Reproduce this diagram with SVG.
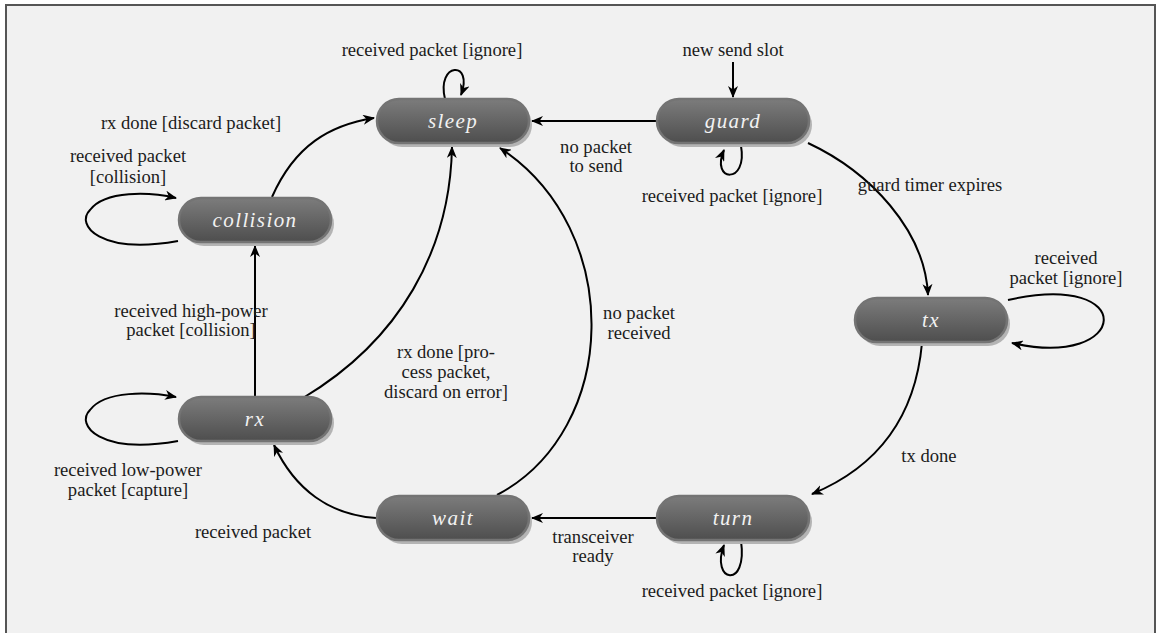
<svg xmlns="http://www.w3.org/2000/svg" width="1157" height="633" viewBox="0 0 1157 633">
  <style>
    .lbl { font-family: "Liberation Serif", "Times New Roman", Tinos, serif; font-size: 18.6px; fill: #1c1c1c; text-anchor: middle; }
    .nt { font-family: "Liberation Serif", "Times New Roman", Tinos, serif; font-style: italic; font-size: 21px; letter-spacing: 1.4px; fill: #f2f2f2; text-anchor: middle; dominant-baseline: central; }
    .edge { fill: none; stroke: #000; stroke-width: 2; marker-end: url(#arr); }
    .shadow { fill: #b4b4b4; }
    .body { fill: url(#grad); stroke: #747474; stroke-width: 2.5; }
  </style>
  <defs>
    <linearGradient id="grad" x1="0" y1="0" x2="0" y2="1">
      <stop offset="0" stop-color="#7c7c7c"/>
      <stop offset="1" stop-color="#4e4e4e"/>
    </linearGradient>
    <marker id="arr" viewBox="0 0 12 10" refX="11" refY="5" markerWidth="12" markerHeight="10" markerUnits="userSpaceOnUse" orient="auto">
      <path d="M0,0 L12,5 L0,10 L3.5,5 Z" fill="#000"/>
    </marker>
  </defs>

  <!-- frame -->
  <rect x="0" y="0" width="1157" height="633" fill="#ffffff"/>
  <rect x="6" y="5" width="1149" height="700" fill="#f1f1f1" stroke="#555" stroke-width="2"/>

  <!-- connectors -->
  <g id="connectors">
    <path class="edge" d="M 445 99 C 436 62, 474 60, 461 95"/>
    <path class="edge" d="M 733 62 L 733 97"/>
    <path class="edge" d="M 656 121 L 532 121"/>
    <path class="edge" d="M 741 146 C 748 185, 710 182, 724 150"/>
    <path class="edge" d="M 808 143 C 870 172, 925 230, 928 295"/>
    <path class="edge" d="M 1008 300 C 1140 270, 1130 370, 1012 343"/>
    <path class="edge" d="M 922 343 C 915 420, 875 468, 812 494"/>
    <path class="edge" d="M 741 541 C 748 590, 710 582, 724 545"/>
    <path class="edge" d="M 656 518 L 532 518"/>
    <path class="edge" d="M 497 495 C 620 430, 625 230, 500 148"/>
    <path class="edge" d="M 303 398 C 400 340, 450 250, 452 147"/>
    <path class="edge" d="M 255 397 L 255 246"/>
    <path class="edge" d="M 272 197 C 295 145, 330 125, 374 118"/>
    <path class="edge" d="M 178 241 C 100 255, 75 225, 90 210 C 105 190, 150 192, 176 198"/>
    <path class="edge" d="M 178 441 C 100 455, 75 425, 90 410 C 105 390, 150 392, 176 397"/>
    <path class="edge" d="M 376 518 C 330 515, 295 490, 274 445"/>
  </g>

  <!-- edge labels -->
  <g id="labels">
    <text class="lbl" x="432" y="56">received packet [ignore]</text>
    <text class="lbl" x="733" y="56">new send slot</text>
    <text class="lbl" x="191" y="129">rx done [discard packet]</text>
    <text class="lbl" x="128" y="162">received packet</text>
    <text class="lbl" x="128" y="183">[collision]</text>
    <text class="lbl" x="596" y="153">no packet</text>
    <text class="lbl" x="596" y="172">to send</text>
    <text class="lbl" x="732" y="202">received packet [ignore]</text>
    <text class="lbl" x="930" y="191">guard timer expires</text>
    <text class="lbl" x="1066" y="264">received</text>
    <text class="lbl" x="1066" y="284">packet [ignore]</text>
    <text class="lbl" x="191" y="317">received high-power</text>
    <text class="lbl" x="191" y="336">packet [collision]</text>
    <text class="lbl" x="446" y="358">rx done [pro-</text>
    <text class="lbl" x="446" y="378">cess packet,</text>
    <text class="lbl" x="446" y="398">discard on error]</text>
    <text class="lbl" x="639" y="319">no packet</text>
    <text class="lbl" x="639" y="339">received</text>
    <text class="lbl" x="929" y="462">tx done</text>
    <text class="lbl" x="128" y="476">received low-power</text>
    <text class="lbl" x="128" y="496">packet [capture]</text>
    <text class="lbl" x="253" y="538">received packet</text>
    <text class="lbl" x="593" y="543">transceiver</text>
    <text class="lbl" x="593" y="562">ready</text>
    <text class="lbl" x="732" y="597">received packet [ignore]</text>
  </g>

  <!-- states -->
  <g id="sleep">
    <rect class="shadow" x="380" y="103" width="152" height="44" rx="22"/>
    <rect class="body" x="377" y="99" width="152" height="44" rx="22"/>
    <text class="nt" x="453" y="121">sleep</text>
  </g>
  <g id="guard">
    <rect class="shadow" x="660" y="103" width="152" height="44" rx="22"/>
    <rect class="body" x="657" y="99" width="152" height="44" rx="22"/>
    <text class="nt" x="733" y="121">guard</text>
  </g>
  <g id="collision">
    <rect class="shadow" x="182" y="202" width="152" height="44" rx="22"/>
    <rect class="body" x="179" y="198" width="152" height="44" rx="22"/>
    <text class="nt" x="255" y="220">collision</text>
  </g>
  <g id="tx">
    <rect class="shadow" x="858" y="302" width="152" height="44" rx="22"/>
    <rect class="body" x="855" y="298" width="152" height="44" rx="22"/>
    <text class="nt" x="931" y="320">tx</text>
  </g>
  <g id="rx">
    <rect class="shadow" x="182" y="401" width="152" height="44" rx="22"/>
    <rect class="body" x="179" y="397" width="152" height="44" rx="22"/>
    <text class="nt" x="255" y="419">rx</text>
  </g>
  <g id="wait">
    <rect class="shadow" x="380" y="500" width="152" height="44" rx="22"/>
    <rect class="body" x="377" y="496" width="152" height="44" rx="22"/>
    <text class="nt" x="453" y="518">wait</text>
  </g>
  <g id="turn">
    <rect class="shadow" x="660" y="500" width="152" height="44" rx="22"/>
    <rect class="body" x="657" y="496" width="152" height="44" rx="22"/>
    <text class="nt" x="733" y="518">turn</text>
  </g>
</svg>
